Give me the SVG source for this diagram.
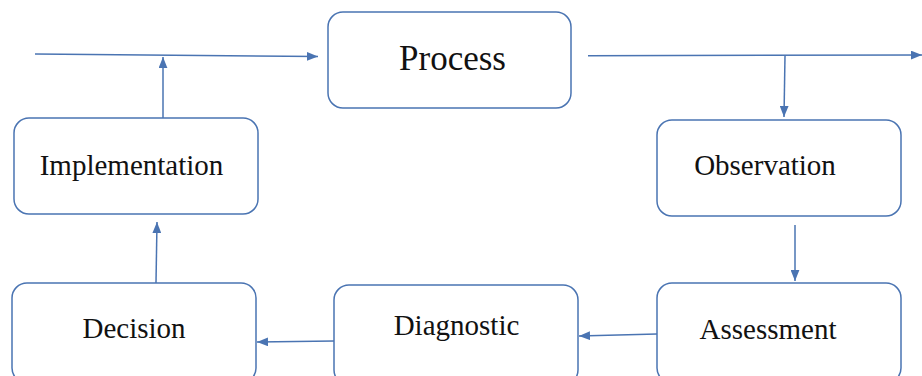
<svg xmlns="http://www.w3.org/2000/svg" width="922" height="376" viewBox="0 0 922 376">
<style>
.box{fill:#fff;stroke:#4a74b2;stroke-width:1.5}
.lbl{font-family:"Liberation Serif","Times New Roman",serif;fill:#111;text-anchor:middle}
.con{fill:none;stroke:#4a74b2;stroke-width:1.5}
</style>
<defs>
<marker id="ah" viewBox="0 0 10 8" refX="10" refY="4" markerWidth="11" markerHeight="9" markerUnits="userSpaceOnUse" orient="auto">
<path d="M0,0 L10,4 L0,8 Z" fill="#4a74b2"/>
</marker>
</defs>
<rect width="922" height="376" fill="#fff"/>
<g id="connectors">
<line class="con" x1="35" y1="54" x2="318" y2="56.5" marker-end="url(#ah)"/>
<line class="con" x1="163" y1="118" x2="163" y2="57" marker-end="url(#ah)"/>
<line class="con" x1="588" y1="55.7" x2="922" y2="55" marker-end="url(#ah)"/>
<line class="con" x1="785" y1="55.5" x2="784" y2="117" marker-end="url(#ah)"/>
<line class="con" x1="795" y1="225" x2="795" y2="281" marker-end="url(#ah)"/>
<line class="con" x1="657" y1="334" x2="579" y2="336" marker-end="url(#ah)"/>
<line class="con" x1="334" y1="341" x2="257" y2="342" marker-end="url(#ah)"/>
<line class="con" x1="156" y1="283" x2="157" y2="222" marker-end="url(#ah)"/>
</g>
<g id="process">
<rect class="box" x="328" y="12" width="243" height="96" rx="15"/>
<text class="lbl" x="452.5" y="70" font-size="35">Process</text>
</g>
<g id="implementation">
<rect class="box" x="14" y="118" width="244" height="96" rx="15"/>
<text class="lbl" x="131.5" y="175" font-size="29">Implementation</text>
</g>
<g id="observation">
<rect class="box" x="657" y="120" width="244" height="96" rx="15"/>
<text class="lbl" x="765" y="175" font-size="29">Observation</text>
</g>
<g id="decision">
<rect class="box" x="12" y="283" width="244" height="100" rx="15"/>
<text class="lbl" x="134" y="338" font-size="29">Decision</text>
</g>
<g id="diagnostic">
<rect class="box" x="334" y="285" width="244" height="100" rx="15"/>
<text class="lbl" x="456.5" y="335" font-size="29">Diagnostic</text>
</g>
<g id="assessment">
<rect class="box" x="657" y="283" width="244" height="100" rx="15"/>
<text class="lbl" x="768" y="339" font-size="29">Assessment</text>
</g>
</svg>
